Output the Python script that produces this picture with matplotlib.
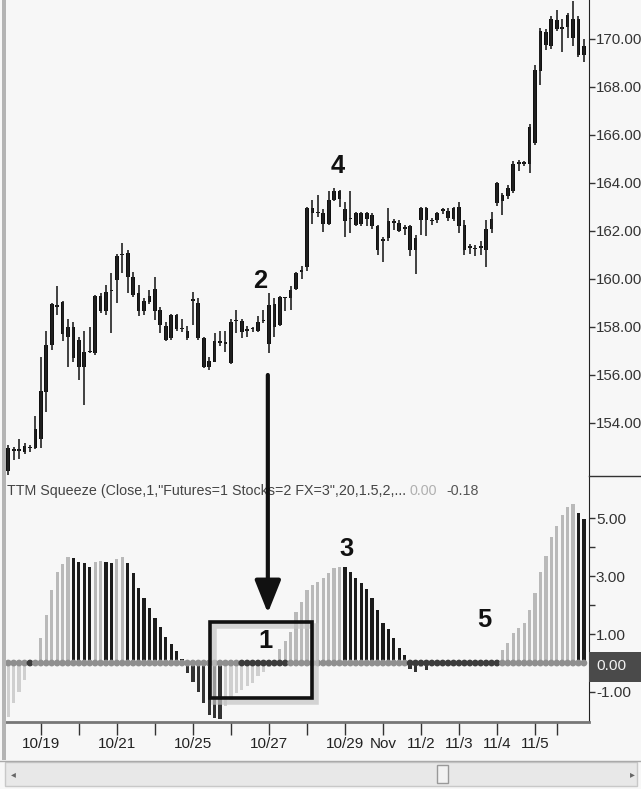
import matplotlib
matplotlib.use('Agg')
import matplotlib.pyplot as plt
from matplotlib import font_manager
from matplotlib.patches import Rectangle
from matplotlib.lines import Line2D
import numpy as np

# the chart uses a narrow Arial look; take the narrowest installed match
names = {f.name for f in font_manager.fontManager.ttflist}
fam = 'Liberation Sans Narrow' if 'Liberation Sans Narrow' in names else 'Liberation Sans'
plt.rcParams['font.family'] = [fam, 'DejaVu Sans']

# ---- price bars (hourly candles) ----
opens = [152.0, 152.9, 152.85, 152.8, 153.0, 152.95, 153.35, 155.3, 157.25, 158.9,
         159.05, 157.6, 158.0, 157.45, 156.35, 156.95, 156.9, 158.65, 158.65, 159.55,
         159.95, 161.0, 161.1, 160.1, 159.4, 158.65, 159.05, 159.6, 158.7, 158.05,
         157.55, 158.5, 157.9, 157.85, 159.1, 159.0, 157.55, 156.35, 156.55, 157.35,
         157.3, 156.5, 158.25, 158.25, 157.85, 157.9, 157.85, 158.25, 157.3, 158.95,
         158.1, 159.2, 159.2, 159.6, 160.3, 160.5, 162.75, 162.75, 162.75, 162.3,
         163.3, 163.65, 162.9, 162.5, 162.25, 162.75, 162.5, 162.65, 162.2, 161.6,
         161.7, 162.4, 162.35, 162.1, 162.2, 161.7, 162.45, 162.95, 162.4, 162.45,
         162.85, 162.85, 162.5, 163.0, 162.25, 161.3, 161.3, 161.3, 161.2, 162.1,
         163.15, 163.5, 163.45, 163.65, 164.8, 164.8, 164.8, 165.65, 168.65, 170.3,
         169.7, 170.8, 170.5, 170.5, 170.85, 170.85, 169.35]
highs = [153.1, 153.0, 153.35, 153.15, 153.1, 154.3, 156.75, 157.85, 159.0, 159.7,
         159.1, 158.35, 158.2, 157.6, 157.85, 158.0, 159.35, 159.4, 159.75, 160.25,
         161.05, 161.5, 161.2, 160.3, 159.75, 159.2, 159.55, 160.1, 158.85, 158.2,
         158.55, 158.55, 158.35, 158.05, 159.45, 159.2, 157.6, 156.75, 157.75, 157.85,
         157.85, 158.35, 158.7, 158.35, 158.05, 158.0, 158.45, 158.7, 159.4, 159.2,
         159.3, 159.25, 159.7, 160.3, 160.55, 163.0, 163.3, 163.5, 162.9, 163.65,
         163.8, 163.7, 163.2, 163.65, 162.8, 162.8, 162.8, 162.75, 162.25, 161.75,
         162.95, 162.5, 162.45, 162.25, 162.25, 161.85, 163.0, 163.0, 162.55, 162.8,
         162.95, 162.95, 163.0, 163.2, 162.45, 161.45, 161.4, 161.6, 162.45, 162.8,
         164.05, 163.6, 163.9, 164.9, 164.95, 164.9, 166.45, 168.9, 170.45, 170.4,
         170.95, 171.2, 170.85, 171.1, 171.6, 170.95, 170.0]
lows = [151.85, 152.45, 152.5, 152.7, 152.8, 152.9, 152.95, 154.45, 157.05, 158.5,
        157.4, 156.35, 156.55, 155.8, 154.75, 156.9, 156.85, 158.6, 158.5, 157.75,
        159.0, 160.25, 159.4, 159.25, 158.45, 158.5, 158.95, 158.3, 157.75, 157.4,
        157.45, 157.85, 157.8, 157.45, 158.1, 157.45, 156.3, 156.2, 156.55, 157.2,
        156.95, 156.45, 157.75, 157.55, 157.6, 157.8, 157.8, 158.15, 156.9, 157.6,
        158.05, 158.65, 158.7, 159.55, 160.0, 160.35, 162.3, 162.6, 161.95, 162.25,
        163.25, 163.0, 161.75, 161.9, 162.2, 162.2, 162.2, 162.1, 161.0, 160.7,
        161.6, 162.05, 161.95, 161.85, 160.95, 160.2, 161.85, 161.8, 162.25, 162.35,
        162.7, 162.4, 162.4, 161.9, 161.0, 161.05, 160.95, 161.0, 160.5, 161.9,
        163.05, 162.65, 163.35, 163.6, 164.5, 164.7, 164.4, 165.6, 168.1, 169.55,
        169.6, 170.35, 169.45, 170.05, 169.7, 169.25, 169.05]
closes = [152.95, 152.85, 152.9, 153.05, 152.95, 153.75, 155.35, 157.25, 158.95, 158.85,
          157.7, 158.0, 156.7, 156.35, 156.95, 157.0, 159.3, 159.3, 159.45, 159.5,
          160.95, 161.05, 160.1, 159.35, 158.65, 159.1, 159.3, 158.65, 158.1, 157.45,
          158.5, 157.9, 157.95, 157.55, 159.15, 157.55, 156.35, 156.6, 157.4, 157.35,
          157.35, 158.2, 158.3, 157.8, 157.9, 157.95, 158.2, 158.3, 158.9, 158.0,
          159.25, 159.2, 159.55, 160.25, 160.35, 162.95, 162.95, 162.75, 162.3, 163.3,
          163.65, 163.35, 162.4, 162.55, 162.75, 162.3, 162.75, 162.2, 161.2, 161.65,
          162.4, 162.35, 162.0, 162.1, 161.2, 161.2, 162.95, 162.45, 162.4, 162.75,
          162.85, 162.55, 162.95, 162.2, 161.2, 161.35, 161.25, 161.35, 162.1, 162.5,
          164.0, 163.25, 163.8, 164.8, 164.85, 164.85, 166.35, 168.7, 170.35, 169.75,
          170.85, 170.4, 170.4, 171.0, 170.05, 169.35, 169.7]

# ---- TTM squeeze histogram ----
momentum = [-1.86, -1.40, -0.99, -0.59, -0.08, 0.1, 0.85, 1.66, 2.52, 3.16,
            3.41, 3.66, 3.64, 3.5, 3.45, 3.31, 3.48, 3.53, 3.5, 3.45,
            3.6, 3.66, 3.47, 3.1, 2.59, 2.24, 1.89, 1.57, 1.26, 0.91,
            0.66, 0.4, 0.15, -0.36, -0.65, -0.99, -1.4, -1.8, -1.9, -1.92,
            -1.5, -1.28, -1.05, -0.95, -0.8, -0.68, -0.45, -0.3, -0.15, -0.05,
            0.5, 0.77, 1.08, 1.77, 2.12, 2.53, 2.7, 2.8, 2.93, 3.1,
            3.28, 3.33, 3.31, 3.16, 2.93, 2.76, 2.55, 2.26, 1.85, 1.4,
            1.17, 0.86, 0.52, 0.29, -0.2, -0.3, -0.15, -0.25, -0.12, -0.1,
            -0.08, -0.05, -0.06, -0.04, -0.05, -0.03, -0.02, 0.02, 0.03, 0.05,
            0.1, 0.45, 0.68, 1.03, 1.2, 1.37, 1.83, 2.41, 3.16, 3.7,
            4.37, 4.74, 5.12, 5.39, 5.5, 5.2, 4.97]
squeeze_on = [4] + list(range(43, 52)) + list(range(74, 91))

price_ticks = [154, 156, 158, 160, 162, 164, 166, 168, 170]
mom_ticks = [-1, 1, 3, 5]
day_ticks = [6, 20, 34, 48, 62, 69, 76, 83, 90, 97]
day_labels = ['10/19', '10/21', '10/25', '10/27', '10/29', 'Nov', '11/2', '11/3', '11/4', '11/5']
other_ticks = [13, 27, 41, 55, 101]
header = 'TTM Squeeze (Close,1,"Futures=1 Stocks=2 FX=3",20,1.5,2,...'

W, H = 641, 789
BG = '#f7f7f7'


def fbox(x0, y0, x1, y1):
    return [x0 / W, 1 - y1 / H, (x1 - x0) / W, (y1 - y0) / H]


fig = plt.figure(figsize=(W / 100, H / 100), dpi=100, facecolor=BG)
renderer = fig.canvas.get_renderer()


def fit(s, target, weight='normal'):
    # font size that makes the string about target pixels wide
    t = fig.text(0, 0, s, fontsize=10, fontweight=weight)
    w = t.get_window_extent(renderer).width
    t.remove()
    return 10 * target / w


fs_price = fit('170.00', 46)
fs_mom = fit('5.00', 30)
fs_date = fit('10/19', 38)
fs_head = fit(header, 397)
fs_num = fit('2', 14, 'bold')

idx = np.arange(len(opens))
o = np.array(opens); c = np.array(closes)
hi = np.array(highs); lo = np.array(lows)

# price panel
ax1 = fig.add_axes(fbox(5, 0, 589, 476), facecolor=BG)
ax1.vlines(idx, lo, hi, color='#222', lw=1.2)
body_lo = np.minimum(o, c)
body_h = np.maximum(np.abs(c - o), 0.06)
ax1.bar(idx, body_h, bottom=body_lo, width=0.68, color='#111111', lw=0)
ax1.set_xlim(-0.6, 106.94)
ax1.set_ylim(151.79, 171.625)
ax1.yaxis.tick_right()
ax1.set_yticks(price_ticks)
ax1.set_yticklabels(['%.2f' % v for v in price_ticks])
ax1.set_xticks([])
ax1.tick_params(axis='y', length=4, width=1, color='#333', labelsize=fs_price,
                labelcolor='#333', pad=1)
for s in ['top', 'left', 'bottom']:
    ax1.spines[s].set_visible(False)
ax1.spines['right'].set_color('#222')

# squeeze panel
ax2 = fig.add_axes(fbox(5, 476, 589, 722), facecolor=BG)
mom = np.array(momentum)
prev = np.concatenate([[mom[0] - 1], mom[:-1]])
rising = mom >= prev
cols = []
for v, r in zip(mom, rising):
    if v >= 0:
        cols.append('#b9b9b9' if r else '#1c1c1c')
    else:
        cols.append('#cfcfcf' if r else '#333333')
ax2.bar(idx, mom, width=0.6, color=cols, lw=0, zorder=2)
dot_cols = ['#3c3c3c' if i in squeeze_on else '#8f8f8f' for i in idx]
ax2.scatter(idx, np.zeros(len(idx)), s=24, c=dot_cols, marker='o', lw=0, zorder=3)
ax2.set_xlim(-0.6, 106.94)
ax2.set_ylim(-2.04, 6.47)
ax2.yaxis.tick_right()
ax2.set_yticks(mom_ticks)
ax2.set_yticklabels(['%.2f' % v for v in mom_ticks])
ax2.set_yticks([0, 2, 4], minor=True)
ax2.tick_params(axis='y', which='both', length=4, width=1, color='#333',
                labelsize=fs_mom, labelcolor='#333', pad=1)
ax2.set_xticks(day_ticks)
ax2.set_xticklabels(day_labels)
ax2.set_xticks(other_ticks, minor=True)
ax2.tick_params(axis='x', which='both', length=9, width=1, color='#333',
                labelsize=fs_date, labelcolor='#222', pad=2)
for s in ['top', 'left']:
    ax2.spines[s].set_visible(False)
ax2.spines['right'].set_color('#222')
ax2.spines['bottom'].set_color('#777')
ax2.spines['bottom'].set_linewidth(2)

# header of the study
tf = fig.transFigure
ax2.text(7 / W, 1 - 491 / H, header, transform=tf, fontsize=fs_head, color='#444',
         va='center', ha='left', zorder=2)
ax2.text(410 / W, 1 - 491 / H, '0.00', transform=tf, fontsize=fs_head, color='#b0b0b0',
         va='center', ha='left', zorder=2)
ax2.text(446 / W, 1 - 491 / H, '-0.18', transform=tf, fontsize=fs_head, color='#555',
         va='center', ha='left', zorder=2)

# arrow from the "2" candle down to the squeeze
ax2.annotate('', xy=(47.8, 1.73), xycoords='data', xytext=(47.8, 156.0),
             textcoords=ax1.transData,
             arrowprops=dict(arrowstyle='-|>,head_length=1.0,head_width=0.4',
                             mutation_scale=20, lw=3, color='#111',
                             shrinkA=0, shrinkB=0),
             annotation_clip=False, zorder=10)

# box around "1" with soft shadow
fig.add_artist(Rectangle((214 / W, 1 - 702 / H), 102 / W, 76 / H, transform=tf,
                         fill=False, ec='#c4c4c4', lw=4, alpha=0.7))
fig.add_artist(Rectangle((210 / W, 1 - 698 / H), 102 / W, 76 / H, transform=tf,
                         fill=False, ec='#111', lw=2.6))

# callout numbers
for lab, px, py in [('2', 260, 281), ('4', 338, 166), ('3', 347, 549),
                    ('1', 266, 641), ('5', 484, 620)]:
    fig.text(px / W, 1 - py / H, lab, fontsize=fs_num, fontweight='bold', color='#111',
             ha='center', va='center')

# zero value badge on the right axis
fig.add_artist(Rectangle((589 / W, 1 - 682 / H), 52 / W, 30 / H, transform=tf,
                         fc='#4a4a4a', ec='none'))
fig.text(596 / W, 1 - 666 / H, '0.00', fontsize=fs_mom, color='#f0f0f0',
         va='center', ha='left')

# frame lines
fig.add_artist(Rectangle((2 / W, 1 - 760 / H), 4 / W, 760 / H, transform=tf,
                         fc='#b4b4b4', ec='none'))
fig.add_artist(Line2D([589 / W, 1], [1 - 476 / H] * 2, transform=tf, color='#333', lw=1))
fig.add_artist(Line2D([0, 1], [1 - 761 / H] * 2, transform=tf, color='#aaa', lw=1))

# scrollbar
fig.add_artist(Rectangle((5 / W, 1 - 786 / H), 632 / W, 24 / H, transform=tf,
                         fc='#e8e8e8', ec='#c8c8c8', lw=1))
fig.add_artist(Rectangle((437 / W, 1 - 783 / H), 11 / W, 18 / H, transform=tf,
                         fc='#f2f2f2', ec='#999', lw=1))
fig.text(13 / W, 1 - 774 / H, '\u25c2', fontsize=7, color='#666', ha='center', va='center',
         family='DejaVu Sans')
fig.text(632 / W, 1 - 774 / H, '\u25b8', fontsize=7, color='#666', ha='center', va='center',
         family='DejaVu Sans')

fig.savefig('out.png', dpi=100, facecolor=BG)
